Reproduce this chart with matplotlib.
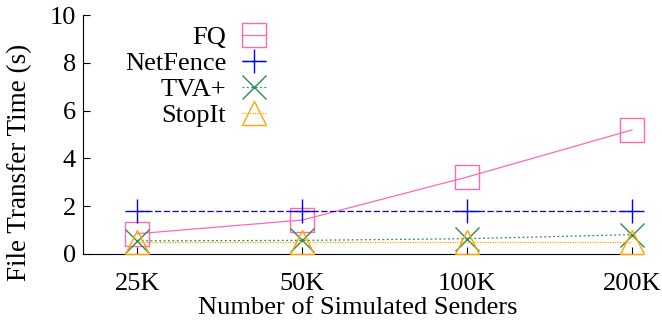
import matplotlib
matplotlib.use("Agg")
import matplotlib.pyplot as plt

plt.rcParams['font.family'] = ['Liberation Serif', 'DejaVu Serif']
plt.rcParams['font.size'] = 19

senders = ['25K', '50K', '100K', '200K']
fq = [0.85, 1.42, 3.22, 5.19]
netfence = [1.82, 1.82, 1.82, 1.82]
tva = [0.55, 0.57, 0.64, 0.81]
stopit = [0.50, 0.50, 0.50, 0.50]

series = [
    ('FQ', fq, '#ff69b4', 's', '-'),
    ('NetFence', netfence, '#0000ff', '+', (0, (5, 2))),
    ('TVA+', tva, '#2e8b57', 'x', (0, (1.5, 2))),
    ('StopIt', stopit, '#ffa500', '^', (0, (1, 1))),
]

fig = plt.figure(figsize=(6.62, 3.2), dpi=100)
ax = fig.add_axes([83 / 662, 66 / 320, 549 / 662, 239 / 320])

xs = list(range(len(senders)))
for name, vals, color, marker, ls in series:
    ax.plot(xs, vals, color=color, linestyle=ls, linewidth=0.9,
            marker=marker, markersize=17, markerfacecolor='none',
            markeredgecolor=color, markeredgewidth=1.0,
            label=name, clip_on=False, zorder=3)

ax.set_xlim(-0.33, 3)
ax.set_ylim(0, 10)
ax.set_xticks(xs)
ax.set_xticklabels(senders)
ax.set_yticks([0, 2, 4, 6, 8, 10])
ax.tick_params(direction='in', length=5, width=0.8)
ax.tick_params(axis='x', pad=14)
ax.tick_params(axis='y', pad=5)
ax.spines['top'].set_visible(False)
ax.spines['right'].set_visible(False)
ax.set_xlabel('Number of Simulated Senders', labelpad=1)
ax.set_ylabel('File Transfer Time (s)', fontsize=19.5)
ax.yaxis.set_label_coords(-0.093, 0.385)

ax.legend(loc='upper right', bbox_to_anchor=(0.333, 0.957), frameon=False,
          markerfirst=False, borderpad=0, borderaxespad=0,
          handlelength=0.9, handletextpad=0.6, labelspacing=0.1)

fig.savefig('out.png', dpi=100)
